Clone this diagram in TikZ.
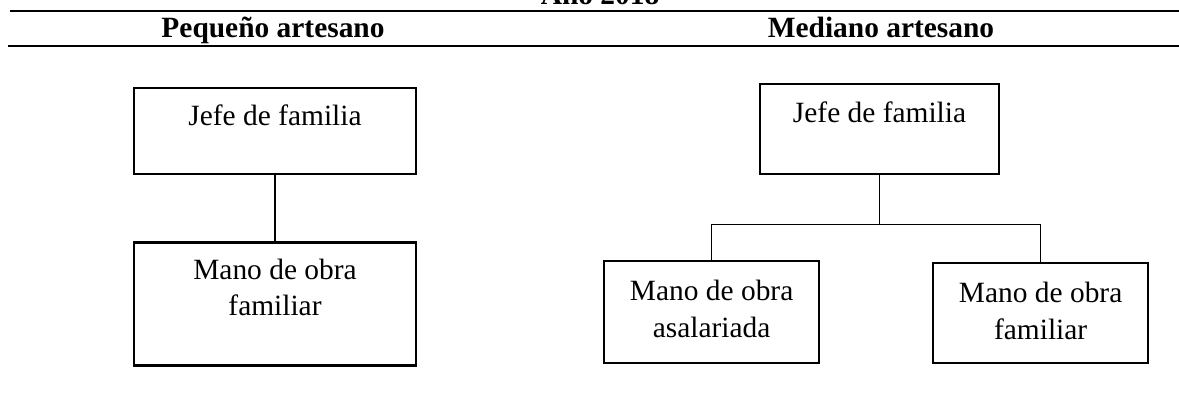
\documentclass[tikz,border=0pt]{standalone}
\usepackage{fontspec}
\setmainfont{Liberation Serif}
\usetikzlibrary{positioning}

\tikzset{
  caja/.style={draw, rectangle, line width=0.95pt, inner sep=0pt, align=center,
    font=\fontsize{12}{14.8}\selectfont},
  titulo/.style={font=\bfseries\fontsize{12}{14.8}\selectfont, inner sep=0pt, anchor=base},
  enlace/.style={line width=0.55pt},
  regla/.style={line width=1.2pt}
}

\begin{document}
\begin{tikzpicture}[x=0.408pt, y=-0.408pt]
  \useasboundingbox (0,0) rectangle (1179,404);

  % encabezado
  \node[titulo] (anio) at (600,4) {Año 2018};
  \draw[regla] (10,11) -- (1179,11);
  \node[titulo] (pequeno) at (273,37) {Pequeño artesano};
  \node[titulo] (mediano) at (881,37) {Mediano artesano};
  \draw[regla] (8,46) -- (1179,46);

  % pequeno artesano
  \node[caja, anchor=north, minimum width=115pt, text height=15.1pt, text depth=20pt] (jefeP) at (275,87) {Jefe de familia};
  \node[caja, below=26.9pt of jefeP, minimum width=115pt, text height=29.8pt, text depth=20.4pt] (famP) {Mano de obra\\familiar};

  % mediano artesano
  \node[caja, anchor=north, minimum width=97.5pt, text height=15.5pt, text depth=21.2pt] (jefeM) at (879.5,83) {Jefe de familia};
  \node[caja, anchor=north west, minimum width=87.7pt, text height=31pt, text depth=10.6pt] (asalM) at (603,260) {Mano de obra\\asalariada};
  \node[caja, anchor=north west, minimum width=87.7pt, text height=31pt, text depth=9.8pt] (famM) at (932,262) {Mano de obra\\familiar};
  \coordinate[below=20pt of jefeM] (rama);

  \draw[enlace] (jefeP) -- (famP);
  \draw[enlace] (jefeM) -- (rama);
  \draw[enlace] (rama) -| (asalM);
  \draw[enlace] (rama) -| (famM);
\end{tikzpicture}
\end{document}
